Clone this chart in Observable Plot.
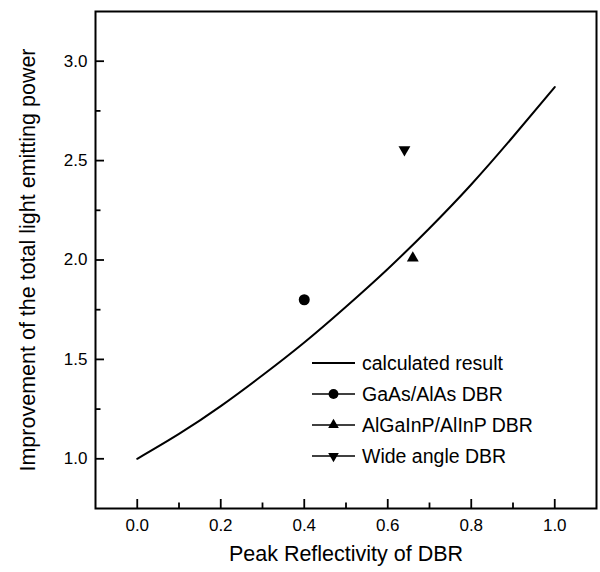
<!DOCTYPE html>
<html>
<head>
<meta charset="utf-8">
<script src="https://cdn.jsdelivr.net/npm/d3@7"></script>
<script src="https://cdn.jsdelivr.net/npm/@observablehq/plot@0.6"></script>
<style>
  html, body { margin: 0; padding: 0; background: #fff; }
  #chart { width: 600px; height: 572px; }
</style>
</head>
<body>
<div id="chart"></div>
<script>
// ---- data ----
const reflectivity = [0.0, 0.1, 0.2, 0.3, 0.4, 0.5, 0.6, 0.7, 0.8, 0.9, 1.0];
const improvement  = [1.00, 1.125, 1.265, 1.42, 1.585, 1.765, 1.955, 2.16, 2.38, 2.62, 2.87];

const seriesNames = ["calculated result", "GaAs/AlAs DBR", "AlGaInP/AlInP DBR", "Wide angle DBR"];
const measuredNames = ["GaAs/AlAs DBR", "AlGaInP/AlInP DBR", "Wide angle DBR"];
const measuredR = [0.40, 0.66, 0.64];
const measuredImprovement = [1.80, 2.01, 2.555];

const xMajorTicks = [0.0, 0.2, 0.4, 0.6, 0.8, 1.0];
const xMinorTicks = [0.1, 0.3, 0.5, 0.7, 0.9];
const yMajorTicks = [1.0, 1.5, 2.0, 2.5, 3.0];
const yMinorTicks = [1.25, 1.75, 2.25, 2.75];

const xTitle = "Peak Reflectivity of DBR";
const yTitle = "Improvement of the total light emitting power";

// ---- symbols ----
const S3 = Math.sqrt(3);
const triUp = {
  draw(ctx, size) {
    const h = Math.sqrt(size / (3 * S3));
    ctx.moveTo(0, -2 * h); ctx.lineTo(S3 * h, h); ctx.lineTo(-S3 * h, h); ctx.closePath();
  }
};
const triDown = {
  draw(ctx, size) {
    const h = Math.sqrt(size / (3 * S3));
    ctx.moveTo(0, 2 * h); ctx.lineTo(S3 * h, -h); ctx.lineTo(-S3 * h, -h); ctx.closePath();
  }
};
const symbolFor = {"GaAs/AlAs DBR": "circle", "AlGaInP/AlInP DBR": triUp, "Wide angle DBR": triDown};
const sizeFor = {"GaAs/AlAs DBR": 5.5, "AlGaInP/AlInP DBR": 4.4, "Wide angle DBR": 4.4};

// ---- tables ----
const curve = reflectivity.map((r, i) => ({r, v: improvement[i]}));
const measured = measuredNames.map((name, i) => ({name, r: measuredR[i], v: measuredImprovement[i]}));

// ---- layout ----
const W = 600, H = 572, mL = 95, mR = 4, mT = 11, mB = 64;
const fw = W - mL - mR, fh = H - mT - mB;
const xDomain = [-0.1, 1.1], yDomain = [0.75, 3.25];
const FONT = "'Liberation Sans', Arial, Helvetica, sans-serif";
const fmt = d3.format(".1f");
// pixel tick lengths converted into data units (inward ticks)
const pxY = (yDomain[1] - yDomain[0]) / fh;
const pxX = (xDomain[1] - xDomain[0]) / fw;

const plot = Plot.plot({
  width: W, height: H,
  marginLeft: mL, marginRight: mR, marginTop: mT, marginBottom: mB,
  style: {fontFamily: FONT, fontSize: "17px", color: "#000", background: "#fff", overflow: "visible"},
  x: {domain: xDomain},
  y: {domain: yDomain},
  marks: [
    Plot.axisX(xMajorTicks, {tickSize: 0, tickPadding: 10, tickFormat: fmt, label: null, fontSize: 17}),
    Plot.axisY(yMajorTicks, {tickSize: 0, tickPadding: 8, tickFormat: fmt, label: null, fontSize: 17}),
    Plot.line(curve, {x: "r", y: "v", curve: "natural", strokeWidth: 2, stroke: "#000"}),
    ...measured.map(d => Plot.dot([d], {x: "r", y: "v", symbol: symbolFor[d.name], r: sizeFor[d.name], fill: "#000"})),
    Plot.frame({strokeWidth: 2, stroke: "#000"}),
    // inward ticks
    Plot.ruleX(xMajorTicks, {x: d => d, y1: yDomain[0], y2: yDomain[0] + 9 * pxY, stroke: "#000", strokeWidth: 1.8}),
    Plot.ruleX(xMinorTicks, {x: d => d, y1: yDomain[0], y2: yDomain[0] + 5.5 * pxY, stroke: "#000", strokeWidth: 1.8}),
    Plot.ruleY(yMajorTicks, {y: d => d, x1: xDomain[0], x2: xDomain[0] + 9 * pxX, stroke: "#000", strokeWidth: 1.8}),
    Plot.ruleY(yMinorTicks, {y: d => d, x1: xDomain[0], x2: xDomain[0] + 5.5 * pxX, stroke: "#000", strokeWidth: 1.8}),
    Plot.text([xTitle], {text: d => d, frameAnchor: "bottom", dy: 52, fontSize: 21.5, textAnchor: "middle"}),
    Plot.text([yTitle], {text: d => d, frameAnchor: "left", dx: -67, rotate: -90, fontSize: 21.5, textAnchor: "middle"})
  ]
});
document.getElementById("chart").appendChild(plot);

// ---- legend (inside plot area) ----
const svg = d3.select(plot);
const lg = svg.append("g").attr("font-family", FONT).attr("font-size", 19.5).attr("text-anchor", "start");
const legendX0 = 312, legendX1 = 355, legendTextX = 362, legendY0 = 363, legendDy = 31;
seriesNames.forEach((name, i) => {
  const y = legendY0 + i * legendDy;
  lg.append("line").attr("x1", legendX0).attr("x2", legendX1).attr("y1", y).attr("y2", y)
    .attr("stroke", "#000").attr("stroke-width", i === 0 ? 2 : 1.4);
  if (i > 0) {
    const sym = symbolFor[name];
    const r = sizeFor[name] * 0.9;
    const size = Math.PI * r * r;
    const path = d3.path();
    if (sym === "circle") { path.arc(0, 0, r, 0, 2 * Math.PI); } else { sym.draw(path, size); }
    lg.append("path").attr("d", path.toString()).attr("fill", "#000")
      .attr("transform", `translate(${(legendX0 + legendX1) / 2},${y})`);
  }
  lg.append("text").attr("x", legendTextX).attr("y", y).attr("dy", "0.35em")
    .attr("text-anchor", "start").attr("fill", "#000").text(name);
});
</script>
</body>
</html>
